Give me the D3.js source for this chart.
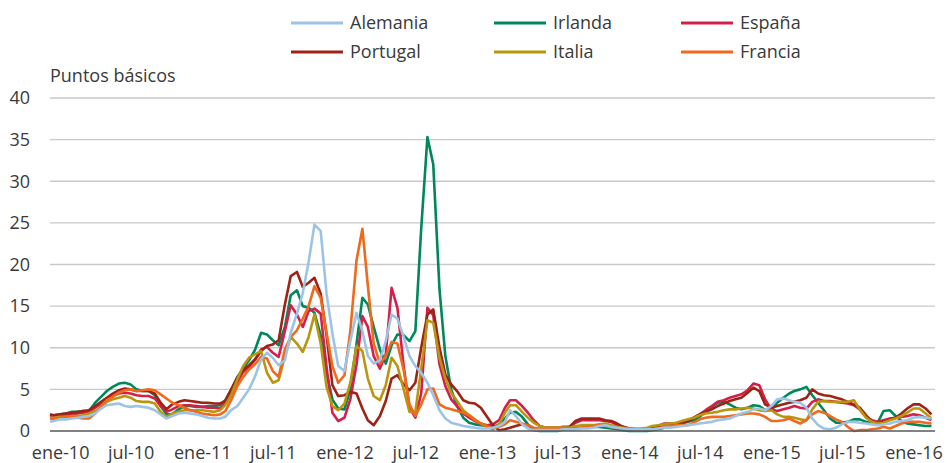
<!DOCTYPE html>
<html><head><meta charset="utf-8">
<script src="https://cdn.jsdelivr.net/npm/d3@7"></script>
<style>
html,body{margin:0;padding:0;background:#fff;}
svg{display:block;font-family:"Open Sans","Noto Sans",sans-serif;}
</style></head>
<body><svg id="chart" width="947" height="463"></svg>
<script>
// Category axis: semi-monthly observation dates (1st and 16th), first point 6 Dec 2009
const firstDate = new Date(2009, 11, 6);
const dates = [firstDate, new Date(2009, 11, 16)];
for (let y = 2010; y <= 2016; y++) {
  for (let m = 0; m < 12; m++) {
    if (y === 2016 && m > 1) break;
    dates.push(new Date(y, m, 1), new Date(y, m, 16));
  }
}

const seriesNames = ["Alemania", "Irlanda", "España", "Portugal", "Italia", "Francia"];
const seriesColors = ["#9dc3e6", "#00875a", "#d41f4b", "#9c2316", "#b8960f", "#f0691c"];

// values per series: Dec-09 (2), 2010..2015 (24 each), Jan-Feb 2016 (4)
const alemania = [1.1,1.2,
  1.4,1.4,1.5,1.6,1.7,1.8,2.1,2.7,3.1,3.2,3.3,3.0,2.9,3.0,2.9,2.8,2.5,2.0,1.5,1.8,2.1,2.2,2.1,2.0,
  1.8,1.6,1.5,1.5,1.7,2.5,3.0,4.0,5.0,6.5,8.6,9.4,8.8,7.9,8.5,11.8,14.1,16.6,20.3,24.8,24.0,16.5,11.7,7.8,
  7.2,10.8,14.2,12.0,9.0,8.1,8.5,10.8,14.0,13.5,11.3,9.0,7.8,7.0,5.8,4.3,2.5,1.5,1.0,0.8,0.6,0.5,0.4,0.3,
  0.3,0.4,0.6,1.1,2.5,1.8,0.8,0.3,0.1,0.1,0.1,0.1,0.1,0.2,0.2,0.2,0.3,0.3,0.4,0.6,0.7,0.5,0.4,0.3,
  0.2,0.2,0.2,0.2,0.2,0.3,0.4,0.4,0.5,0.6,0.7,0.8,0.9,1.0,1.1,1.3,1.4,1.5,1.8,2.1,2.3,2.6,2.7,2.5,
  3.0,3.8,3.9,3.7,3.5,3.4,2.8,1.5,0.7,0.3,0.2,0.4,0.8,1.1,1.1,1.0,0.9,0.8,0.7,0.8,0.9,1.1,1.2,1.3,
  1.6,1.7,1.6,1.5];
const irlanda = [1.8,1.9,
  2.0,2.1,2.3,2.3,2.4,2.4,3.4,4.1,4.8,5.3,5.7,5.8,5.6,5.0,4.8,4.8,4.3,3.0,2.0,2.0,2.6,3.0,3.0,2.9,
  2.9,3.0,3.0,3.1,3.7,4.9,6.5,7.5,8.5,9.7,11.8,11.6,10.9,10.3,12.5,16.3,16.9,15.0,14.8,14.2,11.5,7.0,3.8,2.7,
  2.6,5.0,10.5,16.0,15.2,12.5,9.8,8.1,10.3,11.6,11.5,10.8,12.0,24.3,35.3,32.0,17.0,9.0,5.0,3.0,1.6,1.0,0.8,0.7,
  0.6,0.5,0.8,1.5,2.2,2.3,1.7,0.8,0.1,0.0,0.0,0.0,0.0,0.2,0.3,0.3,0.4,0.4,0.5,0.5,0.4,0.3,0.2,0.1,
  0.0,0.0,0.0,0.0,0.1,0.2,0.4,0.5,0.7,0.9,1.1,1.3,1.7,2.3,2.9,3.4,3.5,3.2,2.8,2.6,2.8,3.1,3.0,2.5,
  2.5,3.4,4.0,4.5,4.8,5.0,5.3,4.3,3.4,2.5,1.5,1.0,1.0,1.1,1.4,1.4,1.1,0.9,1.0,2.4,2.5,1.8,1.2,0.9,
  0.8,0.7,0.6,0.6];
const espana = [1.8,1.7,
  1.8,1.9,2.0,2.1,2.2,2.3,2.8,3.3,3.8,4.2,4.5,4.6,4.5,4.3,4.2,4.2,3.9,3.0,2.3,2.6,3.0,3.1,3.1,3.0,
  2.9,2.8,2.8,2.7,3.3,4.5,5.9,7.1,7.7,8.5,9.8,10.1,9.4,8.9,12.0,15.1,14.0,12.5,14.4,14.7,14.1,7.7,2.2,1.2,
  1.6,3.8,8.0,13.8,12.5,9.0,7.5,9.2,17.2,14.8,7.8,2.8,1.6,4.5,14.8,13.9,8.0,5.4,3.8,3.0,2.1,1.6,1.2,0.9,
  0.7,0.8,1.3,2.8,3.7,3.7,3.0,2.2,1.3,0.6,0.4,0.4,0.4,0.5,0.5,1.0,1.3,1.3,1.3,1.3,1.2,1.1,0.7,0.5,
  0.3,0.2,0.2,0.3,0.4,0.6,0.9,0.9,0.9,1.0,1.2,1.6,2.0,2.5,3.0,3.5,3.7,4.0,4.2,4.4,4.9,5.7,5.5,3.8,
  2.6,2.4,2.6,2.8,3.0,2.8,2.7,3.5,3.8,3.6,3.6,3.5,3.4,3.3,3.1,2.6,1.7,1.3,1.1,1.3,1.5,1.6,1.7,1.8,
  2.0,1.9,1.6,1.3];
const portugal = [2.0,1.9,
  2.0,2.1,2.2,2.3,2.4,2.5,3.0,3.5,4.0,4.5,4.9,5.1,5.0,4.8,4.8,4.8,4.5,3.4,2.6,3.2,3.5,3.7,3.6,3.5,
  3.4,3.4,3.3,3.3,3.6,5.0,6.4,7.3,7.9,8.6,9.6,10.2,10.4,10.9,15.2,18.6,19.1,17.3,17.8,18.4,16.5,11.5,5.5,4.2,
  4.3,4.7,4.5,2.7,1.3,0.7,1.8,3.6,6.3,6.7,5.6,4.9,5.8,10.0,14.0,14.6,10.0,6.8,5.6,4.8,3.7,3.4,3.3,2.8,
  1.7,0.7,0.1,0.2,0.4,0.6,0.8,0.7,0.3,0.2,0.2,0.2,0.2,0.3,0.5,1.2,1.5,1.5,1.5,1.5,1.3,1.2,0.9,0.5,
  0.3,0.2,0.2,0.3,0.4,0.6,0.7,0.7,0.8,1.0,1.2,1.6,2.0,2.3,2.6,3.0,3.3,3.6,3.8,4.0,4.6,5.2,4.8,3.2,
  2.8,3.0,3.2,3.4,3.5,3.7,4.0,5.0,4.5,4.3,4.2,4.0,3.8,3.5,3.2,2.8,1.9,1.1,0.9,1.1,1.4,1.6,2.1,2.7,
  3.2,3.2,2.7,2.0];
const italia = [1.6,1.6,
  1.7,1.7,1.8,1.8,1.9,2.1,2.4,2.8,3.5,3.8,4.0,4.2,4.0,3.6,3.5,3.5,3.3,2.3,1.7,2.1,2.3,2.5,2.5,2.5,
  2.5,2.4,2.3,2.5,3.1,4.3,6.2,7.8,8.8,9.2,9.6,7.0,5.8,6.1,9.0,11.3,10.5,9.5,11.3,14.0,10.5,5.3,3.0,2.5,
  3.3,5.8,10.2,9.6,6.3,4.2,3.7,5.5,8.8,7.8,5.0,2.3,2.3,7.5,13.3,13.0,8.8,6.3,4.6,3.6,2.5,1.9,1.4,0.9,
  0.5,0.2,0.8,2.2,3.1,3.1,2.3,1.6,1.0,0.6,0.4,0.4,0.4,0.4,0.4,0.6,0.7,0.7,0.7,0.8,0.9,0.7,0.5,0.4,
  0.3,0.3,0.3,0.4,0.6,0.7,0.8,0.9,1.0,1.2,1.4,1.6,1.9,2.1,2.2,2.3,2.5,2.6,2.6,2.7,2.8,2.7,2.5,2.4,
  2.5,2.0,1.7,1.7,1.6,1.4,1.3,2.6,3.5,3.6,3.5,3.5,3.5,3.5,3.7,2.6,1.6,1.1,0.9,1.0,1.3,1.5,1.8,2.2,
  2.7,2.7,2.1,1.5];
const francia = [1.5,1.4,
  1.6,1.7,1.7,1.6,1.5,1.5,2.1,3.0,3.7,4.1,4.6,4.9,5.0,4.8,4.9,5.0,4.9,4.4,3.9,3.4,3.1,2.8,2.5,2.3,
  2.1,2.0,1.9,2.0,2.4,3.7,5.4,6.5,7.4,8.0,8.9,8.7,7.2,6.5,9.8,11.3,12.1,13.5,15.0,17.4,16.0,11.8,7.8,5.8,
  6.7,12.0,20.5,24.3,17.5,10.5,8.1,9.0,10.7,10.5,7.3,3.2,1.8,3.2,5.0,5.1,3.2,2.8,2.6,2.4,2.2,1.9,1.3,0.9,
  0.6,0.3,0.5,0.8,1.3,1.1,0.9,0.7,0.4,0.3,0.2,0.2,0.2,0.3,0.3,0.3,0.4,0.5,0.6,0.7,0.6,0.5,0.4,0.3,
  0.2,0.1,0.1,0.2,0.2,0.3,0.5,0.6,0.7,0.7,0.7,1.0,1.4,1.6,1.7,1.7,1.7,1.8,1.9,2.0,2.1,2.1,2.0,1.7,
  1.2,1.2,1.3,1.5,1.2,0.9,1.3,2.0,2.4,2.2,1.8,1.4,1.1,0.5,0.0,0.1,0.1,0.2,0.3,0.5,0.3,0.6,0.9,1.1,
  1.1,1.1,1.0,0.9];

const yTicks = [0, 5, 10, 15, 20, 25, 30, 35, 40];
const xTickDates = [];
for (let y = 2010; y <= 2016; y++) { xTickDates.push(new Date(y, 0, 1)); if (y < 2016) xTickDates.push(new Date(y, 6, 1)); }
const monthAbbr = ["ene","feb","mar","abr","may","jun","jul","ago","sep","oct","nov","dic"];
const yLabel = "Puntos básicos";

const seriesValues = [alemania, irlanda, espana, portugal, italia, francia];

const svg = d3.select("#chart");
const x = d3.scaleTime().domain([firstDate, new Date(2016, 1, 20)]).range([50, 933]);
const y = d3.scaleLinear().domain([0, 40]).range([431, 98]);

// gridlines
svg.append("g").selectAll("line").data(yTicks.filter(d => d > 0)).join("line")
  .attr("x1", 50).attr("x2", 935)
  .attr("y1", d => y(d)).attr("y2", d => y(d))
  .attr("stroke", "#c9c9c9").attr("stroke-width", 1.3);

// y axis labels
const yAxis = d3.axisLeft(y).tickValues(yTicks).tickSize(0).tickPadding(0);
const gy = svg.append("g").attr("transform", "translate(30,0)").call(yAxis);
gy.select(".domain").remove();
gy.selectAll("text").attr("font-size", 18).attr("fill", "#3a3a3a").attr("font-family", "Open Sans, sans-serif");

// x axis labels
const xAxis = d3.axisBottom(x).tickValues(xTickDates).tickSize(0).tickPadding(0)
  .tickFormat(d => monthAbbr[d.getMonth()] + "-" + String(d.getFullYear()).slice(2));
const gx = svg.append("g").attr("transform", "translate(0,446)").call(xAxis);
gx.select(".domain").remove();
gx.selectAll("text").attr("font-size", 18).attr("fill", "#3a3a3a").attr("font-family", "Open Sans, sans-serif");

// y title
svg.append("text").attr("x", 50).attr("y", 82).attr("font-size", 18).attr("fill", "#3a3a3a").text(yLabel);

// lines (Alemania drawn last so it sits on top)
const line = d3.line().x((d, i) => x(dates[i])).y(d => y(d));
const order = [1, 2, 3, 4, 5, 0];
svg.append("g").selectAll("path").data(order).join("path")
  .attr("d", k => line(seriesValues[k]))
  .attr("fill", "none")
  .attr("stroke", k => seriesColors[k])
  .attr("stroke-width", 2.6)
  .attr("stroke-linejoin", "round");

// zero axis line
svg.append("line").attr("x1", 50).attr("x2", 935).attr("y1", y(0)).attr("y2", y(0))
  .attr("stroke", "#595959").attr("stroke-width", 1.5);

// legend
const legX = [291, 494, 681], legY = [23, 52];
const leg = svg.append("g").selectAll("g").data(seriesNames).join("g")
  .attr("transform", (d, i) => `translate(${legX[i % 3]},${legY[Math.floor(i / 3)]})`);
leg.append("line").attr("x1", 0).attr("x2", 52).attr("y1", 0).attr("y2", 0)
  .attr("stroke", (d, i) => seriesColors[i]).attr("stroke-width", 3);
leg.append("text").attr("x", 59).attr("y", 0).attr("dy", "0.35em")
  .attr("font-size", 18).attr("fill", "#3a3a3a").text(d => d);
</script>
</body></html>
